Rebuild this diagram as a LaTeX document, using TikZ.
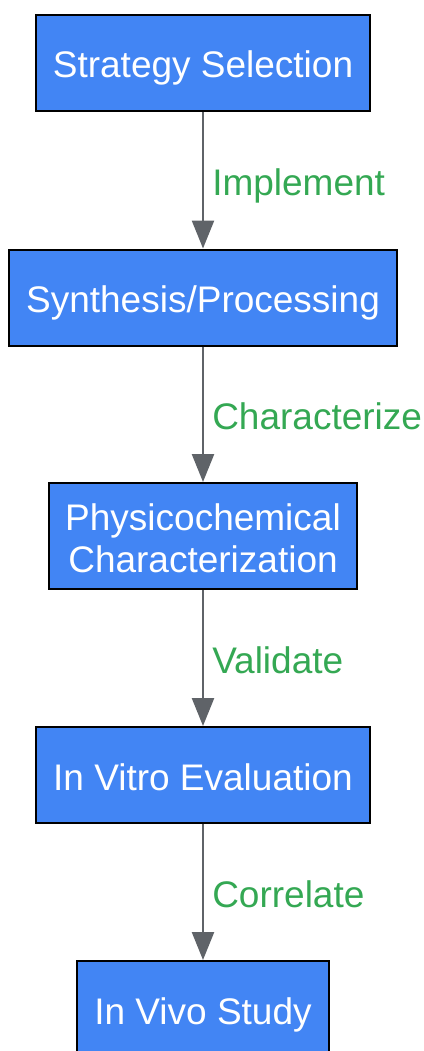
\documentclass[tikz,border=0pt]{standalone}
\usepackage{fontspec}
\setmainfont{Liberation Sans}
\usetikzlibrary{arrows.meta}
\definecolor{boxblue}{HTML}{4285F4}
\definecolor{arrowgray}{HTML}{5F6368}
\definecolor{labelgreen}{HTML}{34A853}
\begin{document}
\begin{tikzpicture}[x=1pt, y=-1pt,
    every node/.style={font=\fontsize{37}{42}\selectfont,
      text height=30pt, text depth=0pt},
    stage/.style={draw=black, line width=2pt, fill=boxblue, text=white,
      inner xsep=17pt, minimum height=96pt, align=center},
    flow/.style={draw=arrowgray, line width=2.5pt,
      -{Triangle[width=22pt,length=28pt]}},
    flowlabel/.style={text=labelgreen, anchor=west, inner sep=0pt}]
      \useasboundingbox (0,0) rectangle (423,1051);

      % Stages
      \node[stage] (strategy) at (203,63) {Strategy Selection};
      \node[stage] (synthesis) at (203,297.5) {Synthesis/Processing};
      \node[stage, minimum height=106pt, inner xsep=16pt, text height=72pt] (physchem) at (203,536) {Physicochemical\\Characterization};
      \node[stage] (invitro) at (203,775) {In Vitro Evaluation};
      \node[stage] (invivo) at (203,1009) {In Vivo Study};

      % Arrows & labels
      \foreach \a/\b/\t in {strategy/synthesis/Implement,
                             synthesis/physchem/Characterize,
                             physchem/invitro/Validate,
                             invitro/invivo/Correlate} {
        \draw[flow] (\a.south) -- (\b.north)
          node[flowlabel, midway, xshift=8pt] {\t};
      }
    \end{tikzpicture}
\end{document}
